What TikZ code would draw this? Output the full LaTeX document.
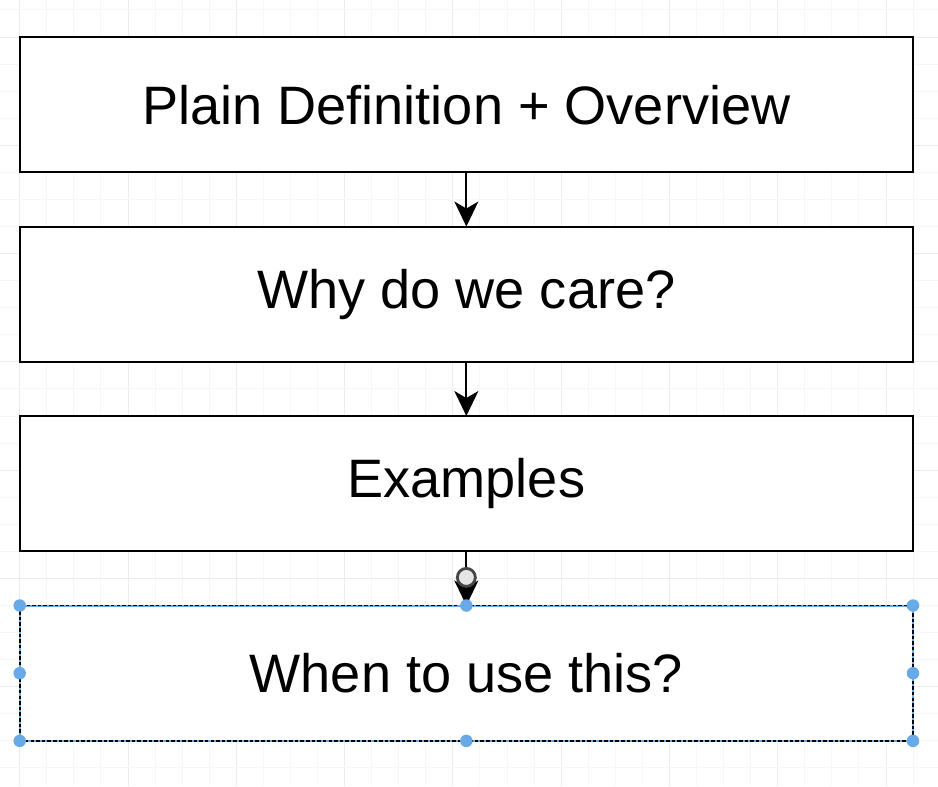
\documentclass[tikz,border=0pt]{standalone}
\usepackage{fontspec}
\setmainfont{Liberation Sans}
\usetikzlibrary{arrows.meta,positioning,calc}
\definecolor{gridminor}{RGB}{247,247,247}
\definecolor{gridmajor}{RGB}{236,236,236}
\definecolor{handleblue}{RGB}{104,170,232}
\definecolor{icongray}{RGB}{70,70,70}
\tikzset{
  stage/.style   ={rectangle, draw=black, fill=white, line width=1.1pt,
                   minimum width=17.866cm, minimum height=2.707cm, align=center,
                   inner sep=0pt, outer sep=0pt, font=\fontsize{30.8}{36}\selectfont},
  picked/.style  ={stage, draw=handleblue},
  selframe/.style={draw=black, line width=0.95pt, dash pattern=on 2pt off 1.2pt},
  flow/.style    ={-{Stealth[length=0.5cm, width=0.48cm, inset=0.14cm]}, line width=1.1pt},
  hovericon/.style={circle, draw=icongray, line width=1.6pt, fill=white!90!black,
                   minimum size=0.36cm, inner sep=0pt},
  handle/.style  ={fill=handleblue}
}
\begin{document}
\begin{tikzpicture}[node distance=1.083cm]
\useasboundingbox (0,0) rectangle (18.76,-15.72);
\foreach \k in {0,...,33}{
  \pgfmathsetmacro{\gx}{0.394+0.5414*\k}
  \pgfmathtruncatemacro{\mj}{mod(\k,4)}
  \ifnum\mj=0 \draw[gridmajor, line width=0.5pt] (\gx,0) -- (\gx,-15.72);
  \else \draw[gridminor, line width=0.5pt] (\gx,0) -- (\gx,-15.72); \fi
}
\foreach \k in {-1,...,27}{
  \pgfmathsetmacro{\gy}{-0.74-0.5414*\k}
  \pgfmathtruncatemacro{\mj}{mod(\k+4,4)}
  \ifnum\mj=0 \draw[gridmajor, line width=0.5pt] (0,\gy) -- (18.76,\gy);
  \else \draw[gridminor, line width=0.5pt] (0,\gy) -- (18.76,\gy); \fi
}

\node[stage] (plain) at (9.327,-2.094) {Plain Definition + Overview};
\node[stage, below=of plain] (why) {Why do we care?};
\node[stage, below=of why] (examples) {Examples};
\node[picked, below=of examples] (whenuse) {When to use this?};
\draw[selframe] (whenuse.north west) rectangle (whenuse.south east);

\draw[flow] (plain) -- (why);
\draw[flow] (why) -- (examples);
\draw[flow] (examples) -- (whenuse);
\node[hovericon] (hover) at ([yshift=-0.52cm]examples.south) {};

\foreach \a in {north west,north,north east,east,south east,south,south west,west}
  \fill[handle] (whenuse.\a) circle (0.125cm);
\end{tikzpicture}
\end{document}
